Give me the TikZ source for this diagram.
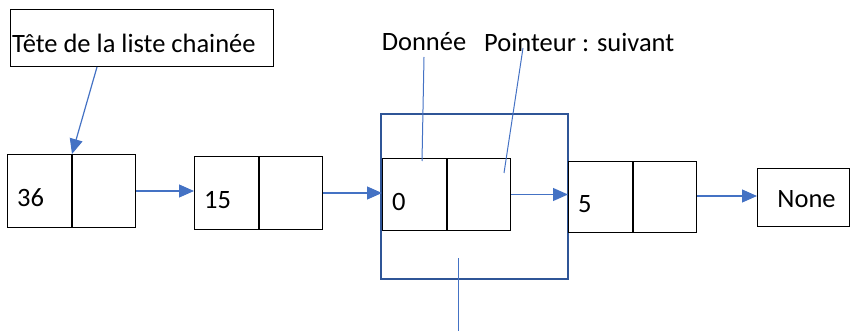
\documentclass[tikz,border=0pt]{standalone}
\usepackage{fontspec}
\setmainfont{Carlito}
\usetikzlibrary{arrows.meta}
\definecolor{lineblue}{HTML}{4472C4}
\definecolor{frameblue}{HTML}{2F5597}
\tikzset{
  cell/.style={draw=black, line width=1pt, minimum width=64pt, minimum height=73pt, inner sep=0pt, anchor=north west},
  txt/.style={font=\fontsize{26.5}{30}\selectfont, inner sep=0pt},
  arr/.style={draw=lineblue, line width=1.2pt, -{Triangle[length=15pt,width=13pt]}},
  lead/.style={draw=lineblue, line width=1pt}
}
\begin{document}
\begin{tikzpicture}[x=1pt,y=-1pt]
\useasboundingbox (0,0) rectangle (850,331);
% head box
\node[draw=black, line width=1pt, minimum width=263pt, minimum height=57pt, inner sep=0pt, anchor=north west] (head) at (10,9) {};
\node[txt, anchor=west] (headt) at (12,43) {Tête de la liste chainée};
% frame
\node[draw=frameblue, line width=2.4pt, minimum width=187pt, minimum height=165pt, inner sep=0pt, anchor=north west] (frame) at (380,113) {};
% list nodes
\node[cell] (n1d) at (7,154) {};
\node[cell, minimum width=63pt] (n1p) at (n1d.north east) {};
\node[txt, anchor=west] (t1) at ([xshift=10pt,yshift=-7pt]n1d.west) {36};
\node[cell] (n2d) at (194,156) {};
\node[cell, minimum width=63pt] (n2p) at (n2d.north east) {};
\node[txt, anchor=west] (t2) at ([xshift=10pt,yshift=-7pt]n2d.west) {15};
\node[cell, minimum height=72pt] (n3d) at (382,158) {};
\node[cell, minimum width=63pt, minimum height=72pt] (n3p) at (n3d.north east) {};
\node[txt, anchor=west] (t3) at ([xshift=10pt,yshift=-7pt]n3d.west) {0};
\node[cell, minimum height=71pt] (n4d) at (568,161) {};
\node[cell, minimum width=63pt, minimum height=71pt] (n4p) at (n4d.north east) {};
\node[txt, anchor=west] (t4) at ([xshift=10pt,yshift=-7pt]n4d.west) {5};
\node[draw=black, line width=1pt, minimum width=92pt, minimum height=58pt, inner sep=0pt, anchor=north west] (none) at (757,168) {};
\node[txt] (nonet) at ([xshift=3pt,yshift=-2pt]none.center) {None};
% labels
\node[txt] (ldon) at (424,42) {Donnée};
\node[txt, anchor=west] (lptr) at (484,42) {Pointeur : suivant};
\coordinate (bot) at (458,331);
% arrows
\draw[arr] ([xshift=87pt]head.south west) -- (n1d.north east);
\draw[arr] (n1p.east) -- (n1p.east -| n2d.west);
\draw[arr] (n2p.east) -- (n2p.east -| n3d.west);
\draw[arr] (n3p.east) -- (n3p.east -| n4d.west);
\draw[arr] ([yshift=1pt]n4p.east) -- ([yshift=1pt]n4p.east -| none.west);
% leader lines
\draw[lead] (424,57) -- (422,161);
\draw[lead] (523,48) -- (504,173);
\draw[lead] (458,258) -- (bot);
\end{tikzpicture}
\end{document}
